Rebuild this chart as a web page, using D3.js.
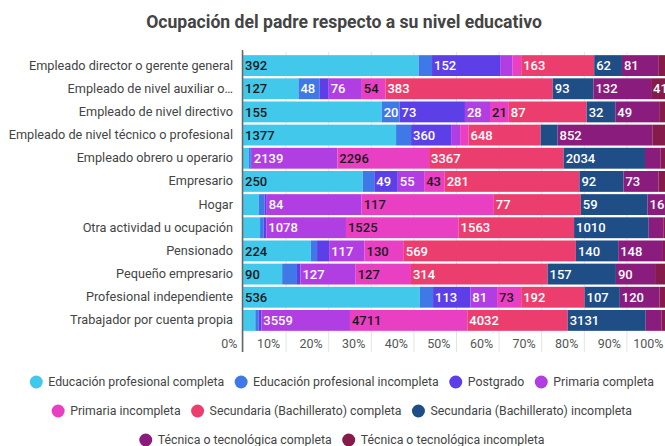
<!DOCTYPE html>
<html>
<head>
<meta charset="utf-8">
<script src="https://cdn.jsdelivr.net/npm/d3@7"></script>
<style>
  html, body { margin: 0; padding: 0; background: #fff; }
  svg { display: block; font-family: Roboto, "Noto Sans", sans-serif; }
</style>
</head>
<body>
<svg id="chart" width="665" height="446"></svg>
<script>
// ---- data ----
const title = "Ocupación del padre respecto a su nivel educativo";
const categories = [
  "Empleado director o gerente general",
  "Empleado de nivel auxiliar o…",
  "Empleado de nivel directivo",
  "Empleado de nivel técnico o profesional",
  "Empleado obrero u operario",
  "Empresario",
  "Hogar",
  "Otra actividad u ocupación",
  "Pensionado",
  "Pequeño empresario",
  "Profesional independiente",
  "Trabajador por cuenta propia"
];
const seriesNames = [
  "Educación profesional completa",
  "Educación profesional incompleta",
  "Postgrado",
  "Primaria completa",
  "Primaria incompleta",
  "Secundaria (Bachillerato) completa",
  "Secundaria (Bachillerato) incompleta",
  "Técnica o tecnológica completa",
  "Técnica o tecnológica incompleta"
];
const eduProfCompleta     = [392, 127, 155, 1377, 145, 250, 14, 231, 224, 90, 536, 494];
const eduProfIncompleta   = [30, 48, 20, 135, 50, 24, 5, 50, 21, 34, 40, 137];
const postgrado           = [152, 21, 73, 360, 25, 49, 2, 35, 40, 8, 113, 105];
const primariaCompleta    = [27, 76, 28, 81, 2139, 55, 84, 1078, 117, 127, 81, 3559];
const primariaIncompleta  = [20, 54, 21, 76, 2296, 43, 117, 1525, 130, 127, 73, 4711];
const secundariaCompleta  = [163, 383, 87, 648, 3367, 281, 77, 1563, 569, 314, 192, 4032];
const secundariaIncompleta= [62, 93, 32, 153, 2034, 92, 59, 1010, 140, 157, 107, 3131];
const tecnicaCompleta     = [81, 132, 49, 852, 393, 73, 16, 198, 148, 90, 120, 643];
const tecnicaIncompleta   = [24, 41, 11, 150, 208, 22, 3, 77, 20, 32, 29, 293];
const tickValues = [0, 0.1, 0.2, 0.3, 0.4, 0.5, 0.6, 0.7, 0.8, 0.9, 1.0];
const legendRows = [[0, 1, 2, 3], [4, 5, 6], [7, 8]];

const seriesValues = [eduProfCompleta, eduProfIncompleta, postgrado, primariaCompleta,
  primariaIncompleta, secundariaCompleta, secundariaIncompleta, tecnicaCompleta, tecnicaIncompleta];
const colors = ["#41C8EA", "#3F79E8", "#5C3FE6", "#B03EE3", "#E940C3", "#EB3E6F", "#1F4D86", "#8A1C7D", "#861B4B"];
const darkText = new Set([0, 4]);

// ---- build table ----
const rows = categories.map((c, i) => {
  const r = { cat: c };
  seriesNames.forEach((s, j) => r[s] = seriesValues[j][i]);
  return r;
});
const stack = d3.stack().keys(seriesNames).offset(d3.stackOffsetExpand);
const layers = stack(rows);

const svg = d3.select("#chart");
const x = d3.scaleLinear().domain([0, 1]).range([243, 669]);
const y = d3.scaleBand().domain(categories).range([54, 332]).paddingInner(0.1).paddingOuter(0.05);
const color = d3.scaleOrdinal().domain(seriesNames).range(colors);

// title
svg.append("text")
  .attr("x", 344).attr("y", 28)
  .attr("text-anchor", "middle")
  .attr("font-size", 17.6).attr("font-weight", "bold")
  .attr("fill", "#444")
  .text(title);

// gridlines + x tick labels
const axisY = 352;
const xAxis = svg.append("g")
  .attr("transform", `translate(0,${axisY})`)
  .call(d3.axisBottom(x).tickValues(tickValues).tickFormat(d3.format(".0%")).tickSize(-(axisY - 52)));
xAxis.select(".domain").remove();
xAxis.selectAll(".tick line").attr("stroke", "#e3e3e3").attr("stroke-width", 1);
xAxis.selectAll(".tick text")
  .attr("text-anchor", "end").attr("x", -6).attr("y", -4).attr("dy", null)
  .attr("font-size", 12.5).attr("fill", "#555").attr("font-family", "Roboto, sans-serif");

// bars
const layerG = svg.append("g").selectAll("g").data(layers).join("g")
  .attr("fill", d => color(d.key));
layerG.selectAll("rect").data(d => d).join("rect")
  .attr("x", d => x(d[0]))
  .attr("width", d => Math.max(0, x(d[1]) - x(d[0])))
  .attr("y", d => y(d.data.cat))
  .attr("height", y.bandwidth());

// value labels
layers.forEach((layer, j) => {
  const g = svg.append("g");
  layer.forEach((d, i) => {
    const w = x(d[1]) - x(d[0]);
    const t = g.append("text")
      .attr("x", x(d[0]) + 2)
      .attr("y", y(d.data.cat) + y.bandwidth() / 2)
      .attr("dy", "0.36em")
      .attr("font-size", 13).attr("font-weight", 500)
      .attr("fill", darkText.has(j) ? "#1a1a1a" : "#fff")
      .text(seriesValues[j][i]);
    if (t.node().getComputedTextLength() + 3 > w) t.remove();
  });
});

// y axis line + category labels
svg.append("line")
  .attr("x1", x(0) - 0.5).attr("x2", x(0) - 0.5)
  .attr("y1", 50).attr("y2", axisY)
  .attr("stroke", "#666").attr("stroke-width", 1.5);
const yAxis = svg.append("g")
  .attr("transform", `translate(${x(0) - 10},0)`)
  .call(d3.axisLeft(y).tickSize(0).tickPadding(0));
yAxis.select(".domain").remove();
yAxis.selectAll(".tick text")
  .attr("font-size", 12.7).attr("fill", "#444").attr("font-weight", 400)
  .attr("font-family", "Roboto, sans-serif");

// legend
const legend = svg.append("g");
const legendY = [382, 411, 440];
const r = 6.5, textOff = 12, itemGap = 17, legendCenter = 342;
legendRows.forEach((row, ri) => {
  const rg = legend.append("g");
  let cx = 0;
  row.forEach((si, k) => {
    rg.append("circle").attr("cx", cx).attr("cy", legendY[ri]).attr("r", r).attr("fill", colors[si]);
    const t = rg.append("text").attr("x", cx + textOff).attr("y", legendY[ri]).attr("dy", "0.35em")
      .attr("font-size", 12.3).attr("fill", "#444").text(seriesNames[si]);
    cx += textOff + t.node().getComputedTextLength() + itemGap;
  });
  const bb = rg.node().getBBox();
  rg.attr("transform", `translate(${legendCenter - (bb.x + bb.width / 2)},0)`);
});
</script>
</body>
</html>
